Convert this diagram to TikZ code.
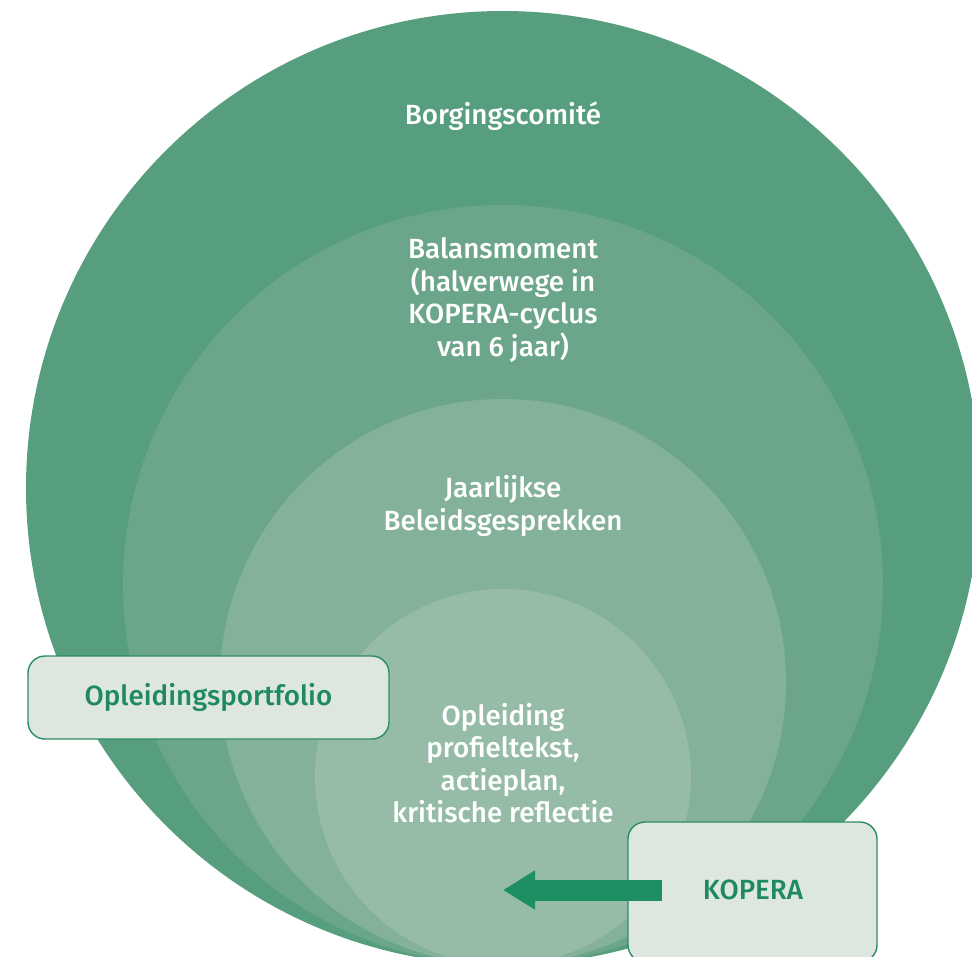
\documentclass[tikz,border=0pt]{standalone}
\usepackage{fontspec}
\setmainfont{Fira Sans Medium}
\usetikzlibrary{arrows.meta}
\definecolor{ringA}{HTML}{579E7E}
\definecolor{ringB}{HTML}{6CA68A}
\definecolor{ringC}{HTML}{83B19A}
\definecolor{ringD}{HTML}{96BCA8}
\definecolor{boxfill}{HTML}{DDE7DF}
\definecolor{boxline}{HTML}{2A8C63}
\definecolor{boxtext}{HTML}{1F8A5E}
\definecolor{arrowgreen}{HTML}{1E8F63}
\begin{document}
\begin{tikzpicture}[x=1pt,y=-1pt,
  lbl/.style={text=white,align=center,font=\fontsize{27.8}{32.5}\selectfont},
  tag/.style={draw=boxline,line width=1.4pt,fill=boxfill,rounded corners=17pt,
    text=boxtext,font=\fontsize{27.8}{32.5}\selectfont,inner sep=0pt}]
\useasboundingbox (0,0) rectangle (972,956);
\clip (0,0) rectangle (972,956);
\fill[ringA] (503,488) circle[radius=477pt];
\fill[ringB] (503,585) circle[radius=380pt];
\fill[ringC] (503,682) circle[radius=283pt];
\fill[ringD] (503,777) circle[radius=188pt];
\node[lbl] (borg) at (503,116) {Borgingscomité};
\node[lbl] (balans) at (503,300) {Balansmoment\\(halverwege in\\KOPERA-cyclus\\van 6 jaar)};
\node[lbl] (jaar) at (503,506) {Jaarlijkse\\Beleidsgesprekken};
\node[lbl] (opl) at (503,763) {Opleiding\\profieltekst,\\actieplan,\\kritische reflectie};
\node[tag,minimum width=361pt,minimum height=83pt] (portfolio) at (208.5,697.5) {Opleidingsportfolio};
\node[tag,minimum width=249pt,minimum height=140pt] (kopera) at (752.5,892) {};
\node[text=boxtext,font=\fontsize{27.8}{32.5}\selectfont] (koperatxt) at (753,890) {KOPERA};
\coordinate (arrstart) at (662,890);
\coordinate (arrend) at (503,890);
\draw[arrowgreen,line width=21pt,line cap=butt,-{Triangle[length=32pt,width=37pt]}] (arrstart) -- (arrend);
\end{tikzpicture}
\end{document}
